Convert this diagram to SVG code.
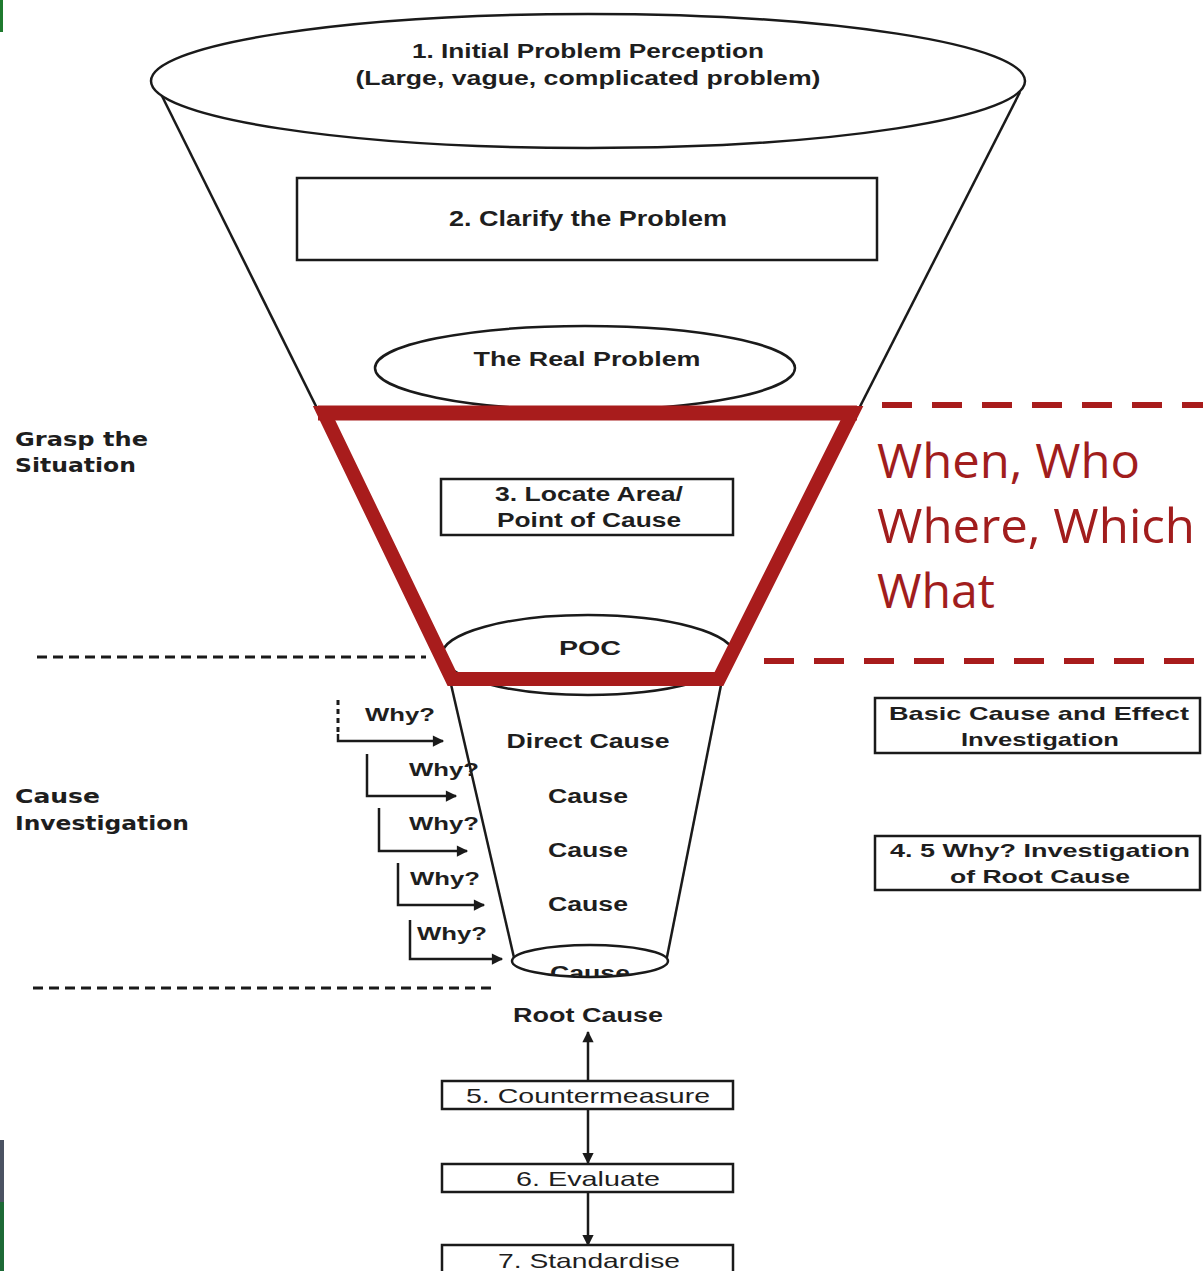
<svg xmlns="http://www.w3.org/2000/svg" width="1203" height="1271" viewBox="0 0 1203 1271">
<style>
.ln{fill:none;stroke:#1a1a1a;stroke-width:2.5}
.shape{fill:#fff;stroke:#1a1a1a;stroke-width:2.5}
.t{font-family:"Liberation Sans",Arial,sans-serif;fill:#1e1e1e;text-anchor:middle}
.b{font-weight:bold}
.lbl{font-family:"DejaVu Sans","Liberation Sans",sans-serif;font-weight:bold;fill:#1e1e1e}
.red{font-family:"Open Sans","Noto Sans",sans-serif;fill:#a11d1d;font-size:47px}
.dash{stroke:#1a1a1a;stroke-width:3;stroke-dasharray:10 6;fill:none}
.rdash{stroke:#a81c1c;stroke-width:6;stroke-dasharray:30 20;fill:none}
.arr{fill:none;stroke:#1a1a1a;stroke-width:2.5}
</style>
<defs>
<marker id="ah" viewBox="0 0 10 10" refX="9" refY="5" markerWidth="5" markerHeight="4.5" markerUnits="strokeWidth" orient="auto">
<path d="M0,0 L10,5 L0,10 z" fill="#1a1a1a"/>
</marker>
<clipPath id="cclip"><ellipse cx="590" cy="961" rx="78" ry="16"/></clipPath>
</defs>

<!-- background edge strips -->
<rect x="0" y="0" width="3" height="32" fill="#1f7a2e"/>
<rect x="0" y="1140" width="4" height="62" fill="#4b5262"/>
<rect x="0" y="1202" width="4" height="69" fill="#1d6a36"/>

<!-- funnel outline -->
<g id="funnel">
<path class="ln" d="M160,92 L446,668"/>
<path class="ln" d="M1020,92 L727,668"/>
<path class="ln" d="M450,680 L515,962"/>
<path class="ln" d="M722,680 L666,962"/>
</g>

<g id="n1">
<ellipse class="shape" cx="588" cy="81" rx="437" ry="67"/>
<text class="t b" x="588" y="58" font-size="21" textLength="352" lengthAdjust="spacingAndGlyphs">1. Initial Problem Perception</text>
<text class="t b" x="588" y="85" font-size="21" textLength="465" lengthAdjust="spacingAndGlyphs">(Large, vague, complicated problem)</text>
</g>

<g id="n2">
<rect class="shape" x="297" y="178" width="580" height="82"/>
<text class="t b" x="588" y="226" font-size="22" textLength="278" lengthAdjust="spacingAndGlyphs">2. Clarify the Problem</text>
</g>

<g id="n_real">
<ellipse class="shape" cx="585" cy="368" rx="210" ry="42"/>
<text class="t b" x="587" y="366" font-size="21" textLength="227" lengthAdjust="spacingAndGlyphs">The Real Problem</text>
</g>

<g id="n3">
<rect class="shape" x="441" y="479" width="292" height="56"/>
<text class="t b" x="589" y="501" font-size="20" textLength="188" lengthAdjust="spacingAndGlyphs">3. Locate Area/</text>
<text class="t b" x="589" y="527" font-size="20" textLength="184" lengthAdjust="spacingAndGlyphs">Point of Cause</text>
</g>

<g id="n_poc">
<ellipse class="shape" cx="588" cy="655" rx="146" ry="40"/>
<text class="t b" x="590" y="655" font-size="21" textLength="62" lengthAdjust="spacingAndGlyphs">POC</text>
</g>

<!-- red highlight -->
<g id="red_frame">
<polygon points="324,413 852,413 719,679 452,679" fill="none" stroke="#a81c1c" stroke-width="14" stroke-linejoin="miter"/>
<line x1="318" y1="413" x2="857" y2="413" stroke="#a81c1c" stroke-width="15"/>
<path class="rdash" d="M882,405 H1203"/>
<path class="rdash" d="M764,661 H1203"/>
<text class="red" x="877" y="478" textLength="263" lengthAdjust="spacingAndGlyphs">When, Who</text>
<text class="red" x="877" y="543" textLength="318" lengthAdjust="spacingAndGlyphs">Where, Which</text>
<text class="red" x="877" y="608" textLength="118" lengthAdjust="spacingAndGlyphs">What</text>
</g>

<!-- section labels and dashed separators -->
<g id="sections">
<text class="lbl" x="15" y="446" font-size="20" textLength="133" lengthAdjust="spacingAndGlyphs">Grasp the</text>
<text class="lbl" x="15" y="472" font-size="20" textLength="121" lengthAdjust="spacingAndGlyphs">Situation</text>
<text class="lbl" x="15" y="803" font-size="20" textLength="85" lengthAdjust="spacingAndGlyphs">Cause</text>
<text class="lbl" x="15" y="830" font-size="20" textLength="174" lengthAdjust="spacingAndGlyphs">Investigation</text>
<path class="dash" d="M37,657 H426"/>
<path class="dash" d="M33,988 H497"/>
</g>

<!-- causes inside funnel -->
<g id="causes">
<text class="t b" x="588" y="748" font-size="20" textLength="163" lengthAdjust="spacingAndGlyphs">Direct Cause</text>
<text class="t b" x="588" y="803" font-size="20" textLength="80" lengthAdjust="spacingAndGlyphs">Cause</text>
<text class="t b" x="588" y="857" font-size="20" textLength="80" lengthAdjust="spacingAndGlyphs">Cause</text>
<text class="t b" x="588" y="911" font-size="20" textLength="80" lengthAdjust="spacingAndGlyphs">Cause</text>
</g>

<g id="n_cause_end">
<ellipse class="shape" cx="590" cy="961" rx="78" ry="16"/>
<text class="t b" x="590" y="980" font-size="20" textLength="80" lengthAdjust="spacingAndGlyphs" clip-path="url(#cclip)">Cause</text>
</g>

<!-- Why? arrows -->
<g id="connectors">
<path d="M338,700 V733" stroke="#1a1a1a" stroke-width="3" stroke-dasharray="5 4" fill="none"/>
<path class="arr" d="M338,734 V741 H443" marker-end="url(#ah)"/>
<path class="arr" d="M367,754 V796 H456" marker-end="url(#ah)"/>
<path class="arr" d="M379,808 V851 H467" marker-end="url(#ah)"/>
<path class="arr" d="M398,863 V905 H484" marker-end="url(#ah)"/>
<path class="arr" d="M410,920 V959 H502" marker-end="url(#ah)"/>
<path class="arr" d="M588,1081 V1032" marker-end="url(#ah)"/>
<path class="arr" d="M588,1109 V1163" marker-end="url(#ah)"/>
<path class="arr" d="M588,1192 V1245" marker-end="url(#ah)"/>
</g>

<g id="why_labels">
<text class="t b" x="400" y="721" font-size="19" textLength="70" lengthAdjust="spacingAndGlyphs">Why?</text>
<text class="t b" x="444" y="776" font-size="19" textLength="70" lengthAdjust="spacingAndGlyphs">Why?</text>
<text class="t b" x="444" y="830" font-size="19" textLength="70" lengthAdjust="spacingAndGlyphs">Why?</text>
<text class="t b" x="445" y="885" font-size="19" textLength="70" lengthAdjust="spacingAndGlyphs">Why?</text>
<text class="t b" x="452" y="940" font-size="19" textLength="70" lengthAdjust="spacingAndGlyphs">Why?</text>
</g>

<g id="n_basic">
<rect class="shape" x="875" y="698" width="325" height="55"/>
<text class="t b" x="1039" y="720" font-size="19" textLength="300" lengthAdjust="spacingAndGlyphs">Basic Cause and Effect</text>
<text class="t b" x="1040" y="746" font-size="19" textLength="158" lengthAdjust="spacingAndGlyphs">Investigation</text>
</g>

<g id="n4">
<rect class="shape" x="875" y="836" width="325" height="54"/>
<text class="t b" x="1040" y="857" font-size="19" textLength="300" lengthAdjust="spacingAndGlyphs">4. 5 Why? Investigation</text>
<text class="t b" x="1040" y="883" font-size="19" textLength="180" lengthAdjust="spacingAndGlyphs">of Root Cause</text>
</g>

<g id="n_root">
<text class="t b" x="588" y="1022" font-size="20" textLength="150" lengthAdjust="spacingAndGlyphs">Root Cause</text>
</g>

<g id="n5">
<rect class="shape" x="442" y="1081" width="291" height="28"/>
<text class="t" x="588" y="1103" font-size="21" textLength="244" lengthAdjust="spacingAndGlyphs">5. Countermeasure</text>
</g>

<g id="n6">
<rect class="shape" x="442" y="1164" width="291" height="28"/>
<text class="t" x="588" y="1186" font-size="21" textLength="144" lengthAdjust="spacingAndGlyphs">6. Evaluate</text>
</g>

<g id="n7">
<rect class="shape" x="442" y="1245" width="291" height="40"/>
<text class="t" x="589" y="1268" font-size="21" textLength="182" lengthAdjust="spacingAndGlyphs">7. Standardise</text>
</g>
</svg>
